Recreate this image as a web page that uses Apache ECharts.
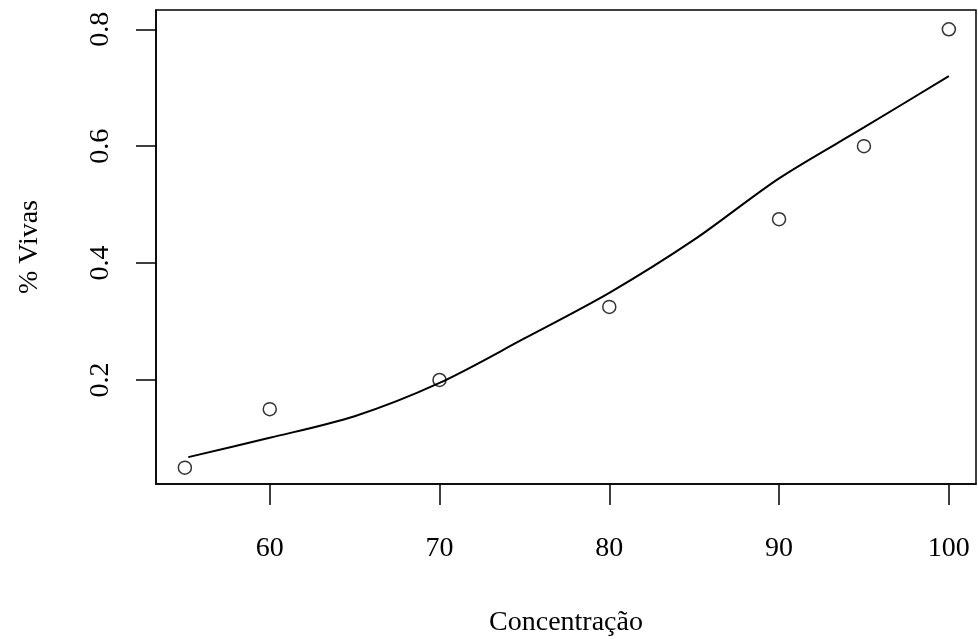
<!DOCTYPE html>
<html>
<head>
<meta charset="utf-8">
<script src="https://cdn.jsdelivr.net/npm/echarts@6/dist/echarts.min.js"></script>
<style>
  html, body { margin: 0; padding: 0; background: #fff; }
  #my_echart { width: 978px; height: 639px; }
</style>
</head>
<body>
<div id="my_echart"></div>
<script>
// observed points
var concentracao = [55, 60, 70, 80, 90, 95, 100];
var vivas = [0.05, 0.15, 0.2, 0.325, 0.475, 0.6, 0.8];
// fitted curve
var curveX = [55.2, 60, 65, 70, 75, 80, 85, 90, 95, 100];
var curveY = [0.068, 0.101, 0.138, 0.195, 0.271, 0.349, 0.44, 0.545, 0.632, 0.72];
var xTicks = [60, 70, 80, 90, 100];
var yTicks = [0.2, 0.4, 0.6, 0.8];

var font = '"Liberation Serif", "DejaVu Serif", serif';
var mychart = echarts.init(document.getElementById('my_echart'));

function zip(a, b) {
    return a.map(function (v, i) { return [v, b[i]]; });
}

mychart.setOption({
    animation: false,
    backgroundColor: '#fff',
    grid: {
        left: 156,
        right: 2,
        top: 10,
        bottom: 155,
        outerBoundsMode: 'none',
        show: true,
        borderColor: '#000',
        borderWidth: 1.5
    },
    xAxis: {
        type: 'value',
        min: 53.3,
        max: 101.6,
        name: 'Concentração',
        nameLocation: 'middle',
        nameGap: 125,
        nameTextStyle: { fontFamily: font, fontSize: 28, color: '#000' },
        axisLine: { show: true, onZero: false, lineStyle: { color: '#000', width: 1.5 } },
        axisTick: {
            show: true, length: 21,
            customValues: xTicks,
            lineStyle: { color: '#000', width: 1.5 }
        },
        axisLabel: {
            customValues: xTicks,
            margin: 65,
            verticalAlign: 'middle',
            fontFamily: font, fontSize: 28, color: '#000'
        },
        splitLine: { show: false }
    },
    yAxis: {
        type: 'value',
        min: 0.022,
        max: 0.833,
        name: '% Vivas',
        nameLocation: 'middle',
        nameGap: 112,
        nameRotate: 90,
        nameTextStyle: { fontFamily: font, fontSize: 28, color: '#000' },
        axisLine: { show: true, onZero: false, lineStyle: { color: '#000', width: 1.5 } },
        axisTick: {
            show: true, length: 20,
            customValues: yTicks,
            lineStyle: { color: '#000', width: 1.5 }
        },
        axisLabel: {
            customValues: yTicks,
            rotate: 90,
            margin: 55,
            align: 'center',
            verticalAlign: 'middle',
            fontFamily: font, fontSize: 28, color: '#000',
            formatter: function (v) { return v.toFixed(1); }
        },
        splitLine: { show: false }
    },
    series: [
        {
            name: 'pontos',
            type: 'scatter',
            data: zip(concentracao, vivas),
            symbol: 'circle',
            symbolSize: 13,
            itemStyle: { color: 'rgba(0,0,0,0)', borderColor: '#000', borderWidth: 1.5 },
            z: 2
        },
        {
            name: 'ajuste',
            type: 'line',
            data: zip(curveX, curveY),
            smooth: 0.3,
            showSymbol: false,
            lineStyle: { color: '#000', width: 2 },
            z: 3
        }
    ]
});
</script>
</body>
</html>
